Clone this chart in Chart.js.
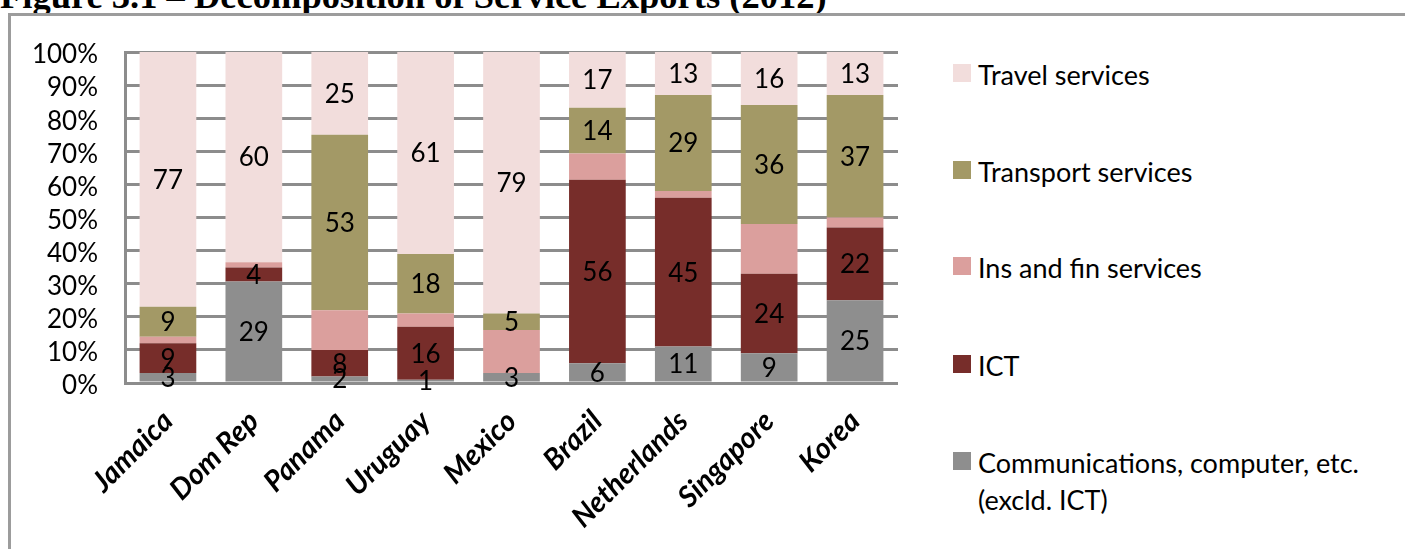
<!DOCTYPE html>
<html>
<head>
<meta charset="utf-8">
<title>Decomposition of Service Exports (2012)</title>
<script src="https://cdn.jsdelivr.net/npm/chart.js@4.4.1/dist/chart.umd.min.js"></script>
<style>
  body { margin: 0; background: #fff; width: 1405px; height: 549px; overflow: hidden; position: relative; }
  #title { position: absolute; left: 0; top: -22px; font: bold 36.5px "Liberation Serif", "Times New Roman", serif; line-height: 36px; white-space: nowrap; color: #000; }
  #frame { position: absolute; left: 8px; top: 13px; width: 1500px; height: 700px; border-left: 3px solid #9c9c9c; border-top: 3px solid #9c9c9c; }
  #exports { position: absolute; left: 0; top: 0; }
  #legend { position: absolute; left: 953px; top: 0; font: 27px Lato, sans-serif; color: #000; }
  .item { position: absolute; left: 0; white-space: nowrap; line-height: 37px; padding-left: 25px; }
  .item i { position: absolute; left: 0; top: 8px; width: 18px; height: 18px; }
</style>
</head>
<body>
<div id="title">Figure 3.1 – Decomposition of Service Exports (2012)</div>
<div id="frame"></div>
<canvas id="exports" width="905" height="549"></canvas>
<div id="legend"></div>
<script>
// service exports by type, share of total (percent)
const categories = ['Jamaica', 'Dom Rep', 'Panama', 'Uruguay', 'Mexico', 'Brazil', 'Netherlands', 'Singapore', 'Korea'];
const commValues = [3, 29, 2, 1, 3, 6, 11, 9, 25];
const ictValues = [9, 4, 8, 16, 0, 56, 45, 24, 22];
const insValues = [2, 1.5, 12, 4, 13, 8, 2, 15, 3];
const transportValues = [9, 0, 53, 18, 5, 14, 29, 36, 37];
const travelValues = [77, 60, 25, 61, 79, 17, 13, 16, 13];
const yTicks = [0, 10, 20, 30, 40, 50, 60, 70, 80, 90, 100];

// 100% stacked: each country scaled to its own total
const totals = categories.map((_, i) =>
  commValues[i] + ictValues[i] + insValues[i] + transportValues[i] + travelValues[i]);
const share = (arr) => arr.map((v, i) => (v / totals[i]) * 100);

const series = [
  { label: 'Communications, computer, etc.|(excld. ICT)', values: commValues, color: '#8e8e8e', showValues: true },
  { label: 'ICT', values: ictValues, color: '#772d2a', showValues: true },
  { label: 'Ins and fin services', values: insValues, color: '#db9f9d', showValues: false },
  { label: 'Transport services', values: transportValues, color: '#a39966', showValues: true },
  { label: 'Travel services', values: travelValues, color: '#f2dddc', showValues: true },
];

const gridGrey = '#8c8c8c';

// numbers written in the middle of each segment
const segmentLabels = {
  id: 'segmentLabels',
  afterDatasetsDraw(chart) {
    const { ctx } = chart;
    ctx.save();
    ctx.font = '26px Lato';
    ctx.fillStyle = '#000';
    ctx.textAlign = 'center';
    ctx.textBaseline = 'middle';
    chart.data.datasets.forEach((ds, i) => {
      if (!ds.showValues) return;
      chart.getDatasetMeta(i).data.forEach((bar, j) => {
        const v = ds.values[j];
        if (!v) return;
        ctx.fillText(String(v), bar.x, (bar.y + bar.base) / 2 + 1);
      });
    });
    ctx.restore();
  },
};

const chart = new Chart(document.getElementById('exports'), {
  type: 'bar',
  data: {
    labels: categories,
    datasets: series.map((s) => ({
      label: s.label,
      data: share(s.values),
      values: s.values,
      showValues: s.showValues,
      backgroundColor: s.color,
      borderWidth: 0,
      categoryPercentage: 1,
      barPercentage: 0.66,
    })),
  },
  options: {
    responsive: false,
    animation: false,
    layout: { padding: { top: 52, left: 0, right: 7, bottom: 0 } },
    plugins: {
      legend: { display: false },
      tooltip: { enabled: false },
    },
    scales: {
      x: {
        stacked: true,
        grid: { display: false, drawTicks: false },
        border: { display: false },
        ticks: {
          color: '#000',
          font: { family: 'Lato', size: 29, weight: 'bold', style: 'italic' },
          minRotation: 45,
          maxRotation: 45,
          padding: 21,
          autoSkip: false,
        },
        afterFit(scale) { scale.height = 166; },
      },
      y: {
        stacked: true,
        min: 0,
        max: 100,
        afterBuildTicks(scale) { scale.ticks = yTicks.map((v) => ({ value: v })); },
        grid: { color: gridGrey, lineWidth: 3, drawTicks: false },
        border: { display: true, color: gridGrey, width: 3 },
        ticks: {
          color: '#000',
          font: { family: 'Lato', size: 26 },
          padding: 27,
          labelOffset: 3,
          autoSkip: false,
          callback: (v) => v + '%',
        },
        afterFit(scale) { scale.width = 125; },
      },
    },
  },
  plugins: [segmentLabels],
});

// legend on the right, top entry = top of the stack
const legend = document.getElementById('legend');
const legendTops = [56, 153, 249, 347, 444];
chart.data.datasets.slice().reverse().forEach((ds, k) => {
  const item = document.createElement('div');
  item.className = 'item';
  item.style.top = legendTops[k] + 'px';
  item.innerHTML = '<i style="background:' + ds.backgroundColor + '"></i>' + ds.label.split('|').join('<br>');
  legend.appendChild(item);
});
</script>
</body>
</html>
